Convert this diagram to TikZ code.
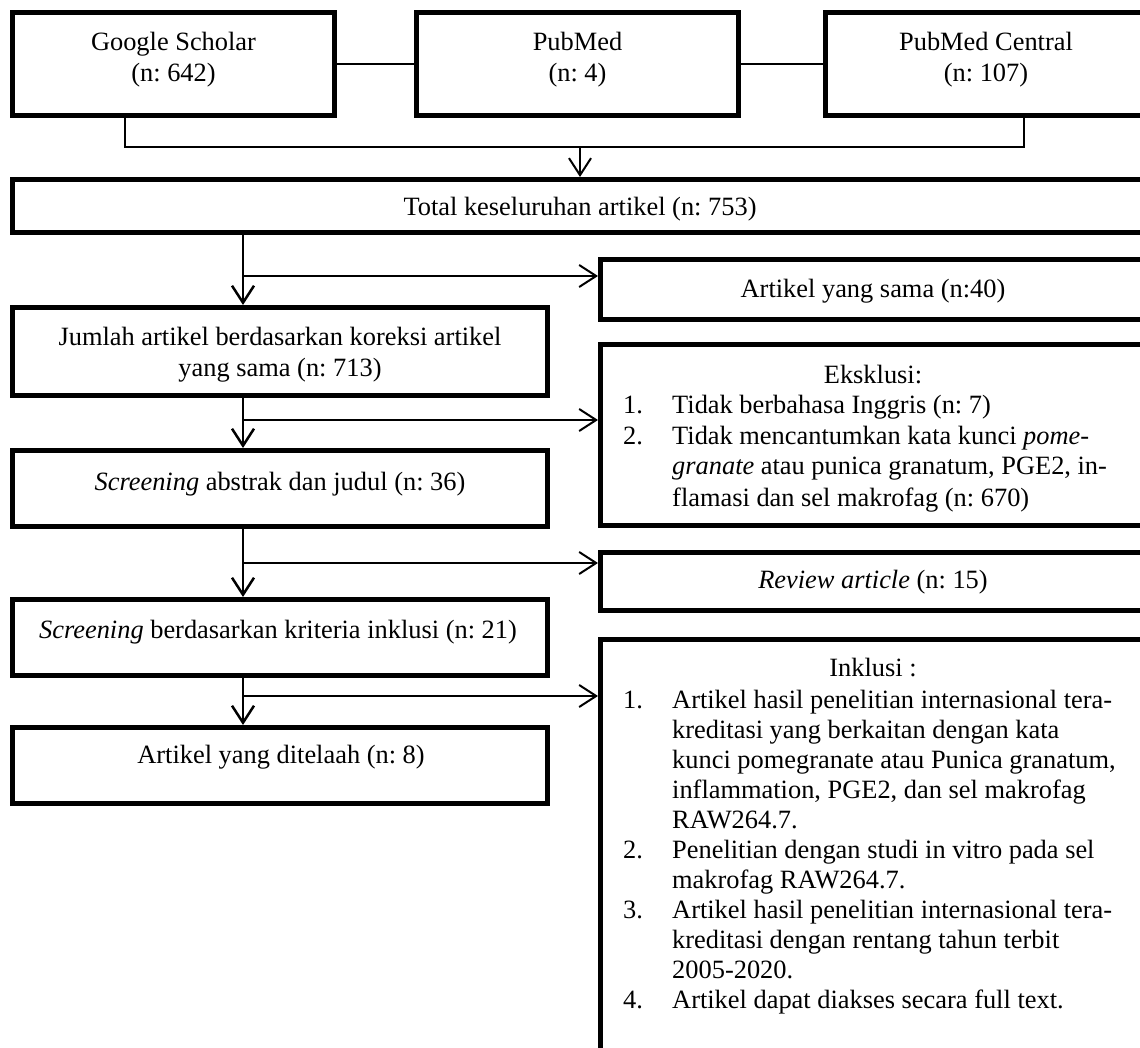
\documentclass[tikz,border=0pt]{standalone}
\usepackage{fontspec}
\setmainfont{Liberation Serif}
\usetikzlibrary{arrows.meta,calc}
\newcommand{\itm}[1]{\hbox to 49pt{#1\hfil}}
\frenchspacing
\begin{document}
\begin{tikzpicture}[x=1pt,y=-1pt,
  box/.style={draw, line width=5pt, inner sep=0pt},
  txt/.style={font=\fontsize{26.4}{30.5}\selectfont\frenchspacing, inner sep=0pt, anchor=base},
  link/.style={line width=2pt},
  brk/.style={line width=1.5pt},
  arr/.style={line width=2pt, -{Straight Barb[length=17pt,width=22pt]}},
  varr/.style={line width=2.5pt, -{Straight Barb[length=17pt,width=22pt]}}]
\useasboundingbox (0,0) rectangle (1140,1048);
\clip (0,0) rectangle (1140,1048);
% boxes
\node[box,minimum width=322pt,minimum height=103pt] (gs) at (173.5,64) {};
\node[box,minimum width=322pt,minimum height=103pt] (pm) at (577.5,64) {};
\node[box,minimum width=322pt,minimum height=103pt] (pmc) at (986.5,64) {};
\node[box,minimum width=1135pt,minimum height=53pt] (total) at (580,206) {};
\node[box,minimum width=547pt,minimum height=59.5pt] (sama) at (874,289.75) {};
\node[box,minimum width=535pt,minimum height=88pt] (jml) at (280,351.5) {};
\node[box,minimum width=547pt,minimum height=181pt] (eks) at (874,435) {};
\node[box,minimum width=535pt,minimum height=76pt] (scr1) at (280,488.5) {};
\node[box,minimum width=547pt,minimum height=58pt] (rev) at (874,581.5) {};
\node[box,minimum width=535pt,minimum height=76pt] (scr2) at (280,637.5) {};
\node[box,minimum width=547pt,minimum height=430pt] (ink) at (874,854.5) {};
\node[box,minimum width=535pt,minimum height=76pt] (tel) at (280,765.5) {};
% texts
\node[txt] (gs1) at (173.5,50.5) {Google Scholar};
\node[txt] (gs2) at (173.5,81.5) {(n: 642)};
\node[txt] (pm1) at (577.5,50.5) {PubMed};
\node[txt] (pm2) at (577.5,81.5) {(n: 4)};
\node[txt] (pmc1) at (986,50.5) {PubMed Central};
\node[txt] (pmc2) at (986,81.5) {(n: 107)};
\node[txt] (totalT) at (580,216) {Total keseluruhan artikel (n: 753)};
\node[txt] (samaT) at (873,298) {Artikel yang sama (n:40)};
\node[txt] (jml1) at (280,346) {Jumlah artikel berdasarkan koreksi artikel};
\node[txt] (jml2) at (280,376) {yang sama (n: 713)};
\node[txt] (eksH) at (873,383) {Eksklusi:};
\node[txt,anchor=base west,font=\fontsize{26.4}{31}\selectfont\frenchspacing] (eksL) at (623,413) {%
  \begin{tabular}[t]{@{}l@{}l@{}}
  \itm{1.} & Tidak berbahasa Inggris (n: 7)\\
  \itm{2.} & Tidak mencantumkan kata kunci \textit{pome-}\\
   & \textit{granate} atau punica granatum, PGE2, in-\\
   & flamasi dan sel makrofag (n: 670)
  \end{tabular}};
\node[txt] (scr1T) at (280,490) {\textit{Screening} abstrak dan judul (n: 36)};
\node[txt] (revT) at (873,588) {\textit{Review article} (n: 15)};
\node[txt] (scr2T) at (278,638) {\textit{Screening} berdasarkan kriteria inklusi (n: 21)};
\node[txt] (inkH) at (873,676) {Inklusi :};
\node[txt,anchor=base west,font=\fontsize{26.4}{30}\selectfont\frenchspacing] (inkL) at (623,708) {%
  \begin{tabular}[t]{@{}l@{}l@{}}
  \itm{1.} & Artikel hasil penelitian internasional tera-\\
   & kreditasi yang berkaitan dengan kata\\
   & kunci pomegranate atau Punica granatum,\\
   & inflammation, PGE2, dan sel makrofag\\
   & RAW264.7.\\
  \itm{2.} & Penelitian dengan studi in vitro pada sel\\
   & makrofag RAW264.7.\\
  \itm{3.} & Artikel hasil penelitian internasional tera-\\
   & kreditasi dengan rentang tahun terbit\\
   & 2005-2020.\\
  \itm{4.} & Artikel dapat diakses secara full text.
  \end{tabular}};
\node[txt] (telT) at (281,763) {Artikel yang ditelaah (n: 8)};
% connectors
\draw[link] (gs.east) -- (pm.west);
\draw[link] (pm.east) -- (pmc.west);
\coordinate (bl) at (125,147);
\coordinate (br) at (1024,147);
\draw[brk] (gs.south -| bl) -- (bl) -- (br) -- (pmc.south -| br);
\draw[arr] (bl -| total.north) -- (total.north);
\coordinate (c0) at (243,0);
\draw[varr] (total.south -| c0) -- (jml.north -| c0);
\coordinate (b1) at (243,276);
\draw[arr] (b1) -- (b1 -| sama.west);
\draw[varr] (jml.south -| c0) -- (scr1.north -| c0);
\coordinate (b2) at (243,420);
\draw[arr] (b2) -- (b2 -| eks.west);
\draw[varr] (scr1.south -| c0) -- (scr2.north -| c0);
\coordinate (b3) at (243,563);
\draw[arr] (b3) -- (b3 -| rev.west);
\draw[varr] (scr2.south -| c0) -- (tel.north -| c0);
\coordinate (b4) at (243,696);
\draw[arr] (b4) -- (b4 -| ink.west);
\end{tikzpicture}
\end{document}
